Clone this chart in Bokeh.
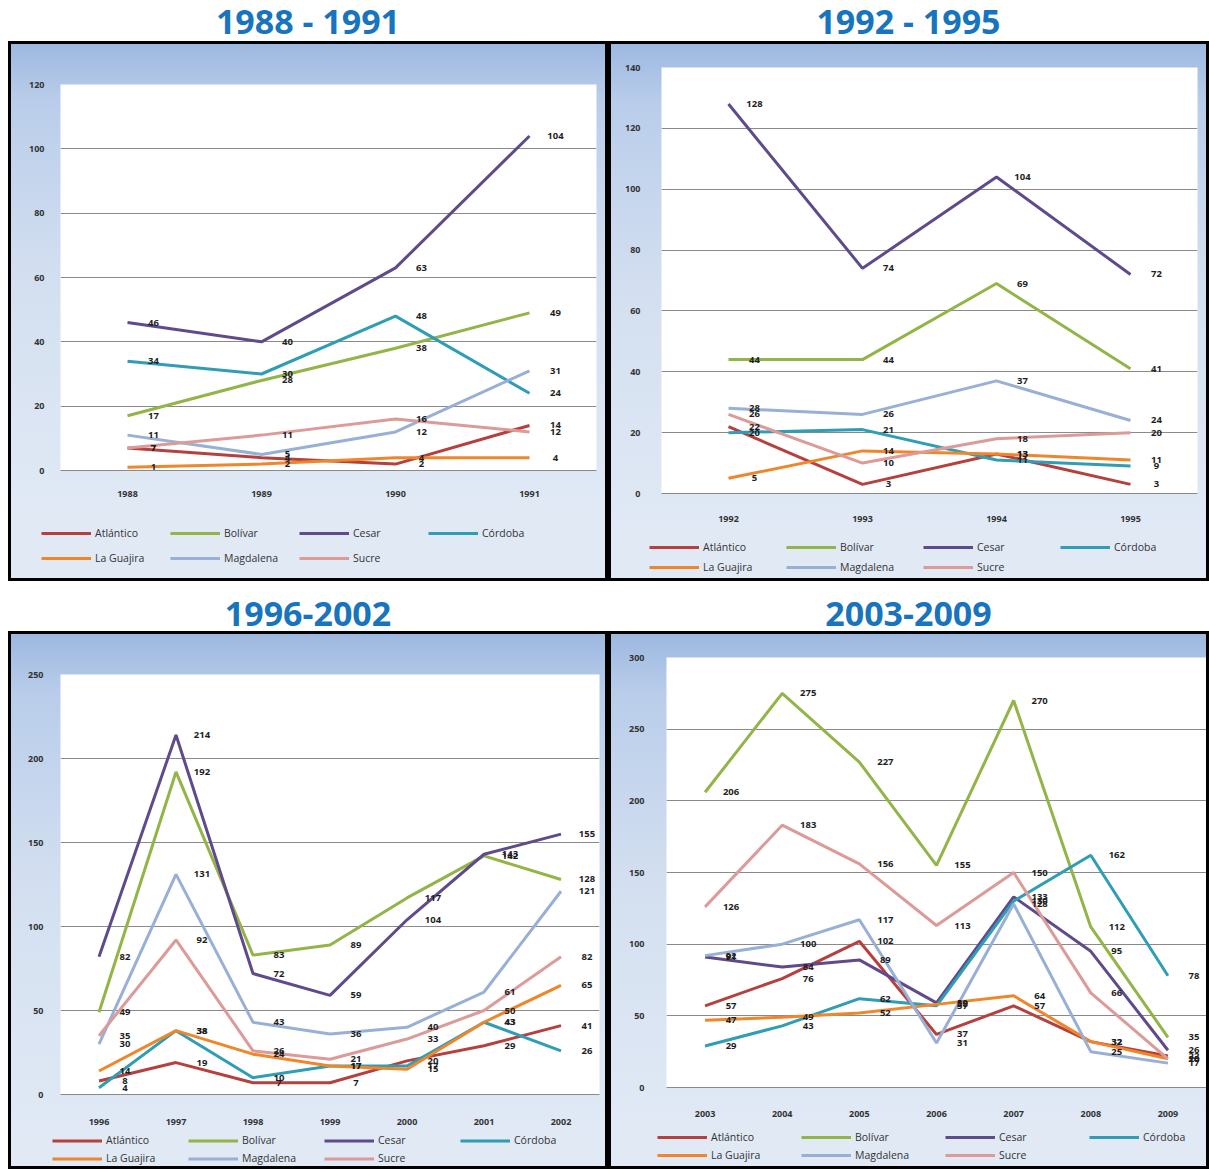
from bokeh.plotting import figure
from bokeh.models import Legend, LegendItem, Div, Range1d, FixedTicker, Spacer
from bokeh.layouts import row, column
from bokeh.core.properties import value
from bokeh.embed import file_html
from bokeh.resources import INLINE

series = ["Atlántico", "Bolívar", "Cesar", "Córdoba", "La Guajira", "Magdalena", "Sucre"]
colors = ["#b5403d", "#93b446", "#5f4a8c", "#2f9db5", "#f0862a", "#98b0d6", "#dc9a98"]

# 1988 - 1991
years_a = ["1988", "1989", "1990", "1991"]
vals_a = {
    "Atlántico": [7, 4, 2, 14],
    "Bolívar": [17, 28, 38, 49],
    "Cesar": [46, 40, 63, 104],
    "Córdoba": [34, 30, 48, 24],
    "La Guajira": [1, 2, 4, 4],
    "Magdalena": [11, 5, 12, 31],
    "Sucre": [7, 11, 16, 12],
}
# 1992 - 1995
years_b = ["1992", "1993", "1994", "1995"]
vals_b = {
    "Atlántico": [22, 3, 13, 3],
    "Bolívar": [44, 44, 69, 41],
    "Cesar": [128, 74, 104, 72],
    "Córdoba": [20, 21, 11, 9],
    "La Guajira": [5, 14, 13, 11],
    "Magdalena": [28, 26, 37, 24],
    "Sucre": [26, 10, 18, 20],
}
# 1996 - 2002
years_c = ["1996", "1997", "1998", "1999", "2000", "2001", "2002"]
vals_c = {
    "Atlántico": [8, 19, 7, 7, 20, 29, 41],
    "Bolívar": [49, 192, 83, 89, 117, 142, 128],
    "Cesar": [82, 214, 72, 59, 104, 143, 155],
    "Córdoba": [4, 38, 10, 17, 17, 43, 26],
    "La Guajira": [14, 38, 24, 17, 15, 43, 65],
    "Magdalena": [30, 131, 43, 36, 40, 61, 121],
    "Sucre": [35, 92, 26, 21, 33, 50, 82],
}
# 2003 - 2009
years_d = ["2003", "2004", "2005", "2006", "2007", "2008", "2009"]
vals_d = {
    "Atlántico": [57, 76, 102, 37, 57, 32, 22],
    "Bolívar": [206, 275, 227, 155, 270, 112, 35],
    "Cesar": [91, 84, 89, 59, 133, 95, 26],
    "Córdoba": [29, 43, 62, 57, 130, 162, 78],
    "La Guajira": [47, 49, 52, 58, 64, 32, 20],
    "Magdalena": [92, 100, 117, 31, 128, 25, 17],
    "Sucre": [126, 183, 156, 113, 150, 66, 20],
}

titles = ["1988 - 1991", "1992 - 1995", "1996-2002", "2003-2009"]
y_max = [120, 140, 250, 300]
y_step = [20, 20, 50, 50]

FONT = "Open Sans"
GRAD = "linear-gradient(180deg, #9db8e0 0%, #b9cdea 12%, #d3dff0 50%, #e0e9f5 100%)"
LEG_BG = "#e1e9f5"
NAN = float("nan")


def make_panel(years, vals, ymax, ystep, width, height, ml, mr, mt, mb,
               ystand, xstand, leg_height, leg_loc, leg_h, leg_sp, leg_lw):
    p = figure(x_range=years, y_range=Range1d(0, ymax), width=width, height=height,
               output_backend="svg", toolbar_location=None,
               min_border_left=ml, min_border_right=mr, min_border_top=mt, min_border_bottom=mb)
    p.frame_align = False
    p.border_fill_color = None
    p.background_fill_color = "white"
    p.outline_line_color = None
    p.styles = {"background": GRAD}
    p.margin = (3, 3, 0, 3)

    p.xgrid.grid_line_color = None
    p.ygrid.grid_line_color = "#8a8a8a"
    p.ygrid.grid_line_width = 1
    p.yaxis.ticker = FixedTicker(ticks=list(range(0, ymax + 1, ystep)))
    p.yaxis.axis_line_color = None
    p.yaxis.major_label_standoff = ystand
    p.xaxis.axis_line_color = "#8a8a8a"
    p.xaxis.major_label_standoff = xstand
    for ax in (p.xaxis[0], p.yaxis[0]):
        ax.major_tick_line_color = None
        ax.minor_tick_line_color = None
        ax.major_tick_out = 0
        ax.major_tick_in = 0
        ax.minor_tick_out = 0
        ax.major_label_text_font = FONT
        ax.major_label_text_font_size = "9px"
        ax.major_label_text_color = "#333333"
        ax.major_label_text_font_style = "bold"

    for name, col in zip(series, colors):
        p.line(years, vals[name], line_color=col, line_width=3)
    for name in series:
        v = vals[name]
        p.text(years, v, text=[str(x) for x in v], x_offset=26,
               text_align="center", text_baseline="middle",
               text_font=value(FONT), text_font_size="9.5px", text_font_style="bold",
               text_color="#1e1e1e")

    # legend strip under the chart
    q = figure(width=width, height=leg_height, x_range=Range1d(0, 1), y_range=Range1d(0, 1),
               output_backend="svg", toolbar_location=None,
               x_axis_location=None, y_axis_location=None,
               min_border_left=0, min_border_right=0, min_border_top=0, min_border_bottom=0)
    q.frame_align = False
    q.border_fill_color = None
    q.background_fill_color = None
    q.outline_line_color = None
    q.grid.grid_line_color = None
    q.styles = {"background": LEG_BG}
    q.margin = (0, 3, 3, 3)
    items = []
    for name, col in zip(series, colors):
        r = q.line([NAN], [NAN], line_color=col, line_width=3)
        items.append(LegendItem(label=name, renderers=[r]))
    leg = Legend(items=items, orientation="horizontal", ncols=4, location=leg_loc,
                 glyph_width=50, glyph_height=leg_h, label_height=leg_h,
                 label_width=leg_lw, label_standoff=4, spacing=leg_sp, padding=0, margin=0,
                 label_text_font=FONT, label_text_font_size="10.5px", label_text_color="#333333",
                 background_fill_alpha=0, border_line_color=None)
    q.add_layout(leg, "center")
    return column(p, q, spacing=0, styles={"background-color": "black"})


def title_div(text, width, height, pad_top, lh):
    html = ('<div style="width:%dpx;text-align:center;font-family:\'Open Sans\';'
            'font-weight:bold;font-size:34px;color:#1874bd;padding-top:%dpx;'
            'line-height:%dpx;white-space:nowrap;">%s</div>' % (width, pad_top, lh, text))
    return Div(text=html, width=width, height=height, margin=(0, 0, 0, 0))


pa = make_panel(years_a, vals_a, y_max[0], y_step[0], 594, 461, 49, 9, 40, 35,
                16, 20, 73, (30, 11), 18, 7, 68)
pb = make_panel(years_b, vals_b, y_max[1], y_step[1], 595, 486, 50, 9, 23, 37,
                21, 22, 48, (38, 3), 16, 4, 79)
pc = make_panel(years_c, vals_c, y_max[2], y_step[2], 594, 496, 49, 6, 40, 36,
                17, 24, 36, (41, 1), 13, 4, 78)
pd = make_panel(years_d, vals_d, y_max[3], y_step[3], 595, 488, 55, 0, 23, 35,
                22, 23, 44, (46, 4), 14, 4, 86)

top = row(
    Spacer(width=8, height=10),
    column(title_div(titles[0], 600, 41, 4, 34), pa, spacing=0),
    column(title_div(titles[1], 601, 41, 4, 34), pb, spacing=0),
    spacing=0)
bottom = row(
    Spacer(width=8, height=10),
    column(title_div(titles[2], 600, 50, 14, 36), pc, spacing=0),
    column(title_div(titles[3], 601, 50, 14, 36), pd, spacing=0),
    spacing=0)
layout = column(top, bottom, spacing=0)

open("out.html", "w").write(file_html(layout, INLINE))
